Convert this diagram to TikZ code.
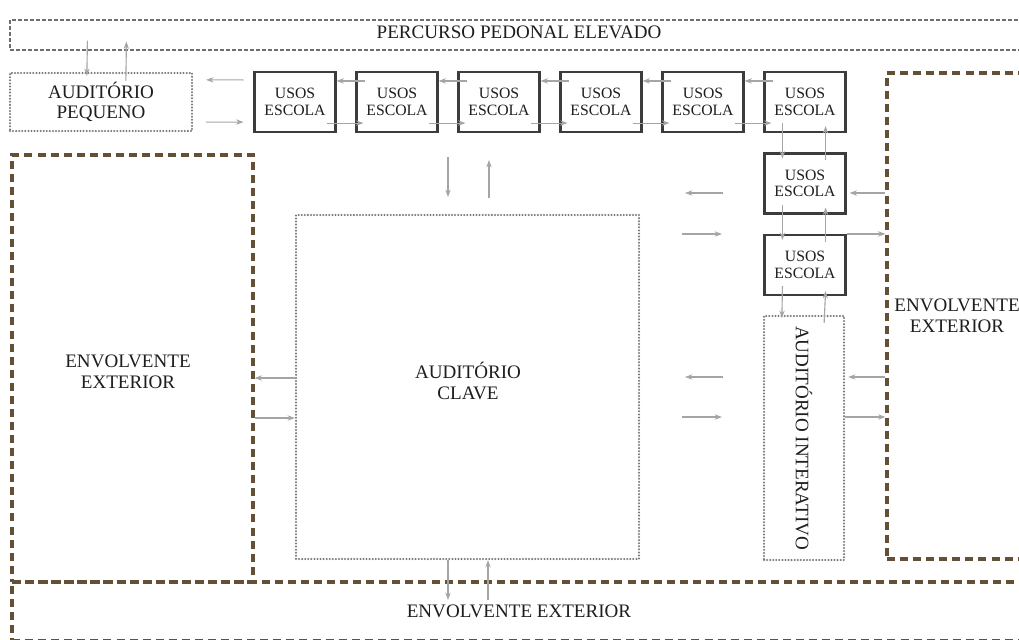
\documentclass[tikz,border=0pt]{standalone}
\usepackage{fontspec}
\setmainfont{Liberation Serif}
\usetikzlibrary{arrows.meta,calc}
\definecolor{brownd}{RGB}{100,80,55}
\definecolor{arrowc}{RGB}{165,165,165}
\definecolor{boxc}{RGB}{60,60,60}
\definecolor{dotc}{RGB}{120,120,120}
\definecolor{percc}{RGB}{110,110,110}
\definecolor{txt}{RGB}{30,30,30}
\begin{document}
\begin{tikzpicture}[x=0.75pt,y=-0.75pt,
  every node/.style={inner sep=0pt,align=center,text=txt},
  bigtxt/.style={font=\fontsize{14.3}{15.5}\selectfont},
  usos/.style={draw=boxc,line width=1.6pt,minimum width=60.75pt,minimum height=45pt,
    font=\fontsize{11.8}{12.3}\selectfont},
  dotbox/.style={draw=dotc,line width=1.7pt,line cap=round,dash pattern=on 0pt off 2.3pt,bigtxt},
  envbox/.style={draw=brownd,line width=2.4pt,dash pattern=on 6pt off 3.8pt,bigtxt},
  percbox/.style={draw=percc,line width=0.9pt,dash pattern=on 3pt off 1.5pt,bigtxt},
  arr/.style={draw=arrowc,line width=0.85pt,-{Stealth[length=5.5pt,width=4pt]}}
]
\useasboundingbox (0,0) rectangle (1019,639);
\fill[white] (0,0) rectangle (1019,639);

% exterior envelopes
\node[envbox,minimum width=760.5pt,minimum height=44.25pt] (envB) at (519,611.5) {ENVOLVENTE EXTERIOR};
\node[envbox,minimum width=180.75pt,minimum height=320.25pt] (envL) at (132.5,368.5) {};
\node[bigtxt] (envLt) at (128,372) {ENVOLVENTE\\EXTERIOR};
\node[envbox,minimum width=105pt,minimum height=364.5pt] (envR) at (957,316) {ENVOLVENTE\\EXTERIOR};

% pedestrian path
\node[percbox,minimum width=765pt,minimum height=22.5pt] (perc) at (520,35) {};
\node[bigtxt] (perct) at (519,32) {PERCURSO PEDONAL ELEVADO};

% auditoriums
\node[dotbox,minimum width=136.5pt,minimum height=43.5pt] (audp) at (101,102) {AUDITÓRIO\\PEQUENO};
\node[dotbox,minimum width=257.25pt,minimum height=258pt] (audc) at (467.5,387) {};
\node[bigtxt] (audct) at (468,381) {AUDITÓRIO\\CLAVE};
\node[dotbox,minimum width=60pt,minimum height=183pt] (audi) at (804,438) {};
\node[bigtxt,rotate=-90] (audit) at (audi.center) {AUDITÓRIO INTERATIVO};

% school uses
\node[usos] (u1) at (295,102) {USOS\\ESCOLA};
\node[usos] (u2) at (397,102) {USOS\\ESCOLA};
\node[usos] (u3) at (499,102) {USOS\\ESCOLA};
\node[usos] (u4) at (601,102) {USOS\\ESCOLA};
\node[usos] (u5) at (703,102) {USOS\\ESCOLA};
\node[usos] (u6) at (805,102) {USOS\\ESCOLA};
\node[usos] (u7) at (805,183.5) {USOS\\ESCOLA};
\node[usos] (u8) at (805,265) {USOS\\ESCOLA};

% top row arrows
\foreach \a/\b in {u1/u2,u2/u3,u3/u4,u4/u5,u5/u6}{
  \draw[arr] ($(\b.north west)+(10,10)$) -- ($(\a.north east)+(0,10)$);
  \draw[arr] ($(\a.south east)+(-10,-10)$) -- ($(\b.south west)+(8,-10)$);
}
% auditorio pequeno <-> first school block
\draw[arr] ($(u1.north west)+(-10,9)$) -- ($(audp.north east)+(13,8)$);
\draw[arr] ($(audp.south east)+(13,-10)$) -- ($(u1.south west)+(-10,-11)$);
% percurso <-> auditorio pequeno
\draw[arr] ($(perc.south west)+(78,-10)$) -- ($(audp.north west)+(78,4)$);
\draw[arr] ($(audp.north west)+(117,9)$) -- ($(perc.south west)+(117,-9)$);

% vertical column arrows
\foreach \a/\b in {u6/u7,u7/u8}{
  \draw[arr] ($(\a.south west)+(19,-10)$) -- ($(\b.north west)+(19,6)$);
  \draw[arr] ($(\b.north east)+(-21,8)$) -- ($(\a.south east)+(-21,-7)$);
}
\draw[arr] ($(u8.south west)+(19,-10)$) -- ($(audi.north west)+(19,3)$);
\draw[arr] ($(audi.north east)+(-21,8)$) -- ($(u8.south east)+(-21,-5)$);

% column <-> right envelope
\draw[arr] (envR.west |- 0,193) -- ($(u7.east |- 0,193)+(3,0)$);
\draw[arr] (u8.north east) -- (u8.north east -| envR.west);
\draw[arr] (envR.west |- 0,377) -- ($(audi.east |- 0,377)+(3,0)$);
\draw[arr] (audi.east |- 0,417) -- (envR.west |- 0,417);

% left envelope <-> auditorio clave
\draw[arr] (audc.west |- 0,378) -- (envL.east |- 0,378);
\draw[arr] (envL.east |- 0,418) -- (audc.west |- 0,418);

% auditorio clave <-> bottom envelope
\draw[arr] (audc.south -| 448,0) -- (448,600);
\draw[arr] (488,600) -- (audc.south -| 488,0);

% free arrows
\coordinate (fa1) at (723,193); \coordinate (fa2) at (685,193);
\coordinate (fb1) at (682,234); \coordinate (fb2) at (722,234);
\coordinate (fc1) at (723,377); \coordinate (fc2) at (685,377);
\coordinate (fd1) at (682,417); \coordinate (fd2) at (722,417);
\coordinate (fe1) at (448,157); \coordinate (fe2) at (448,197);
\coordinate (ff1) at (489,198); \coordinate (ff2) at (489,160);
\draw[arr] (fa1) -- (fa2);
\draw[arr] (fb1) -- (fb2);
\draw[arr] (fc1) -- (fc2);
\draw[arr] (fd1) -- (fd2);
\draw[arr] (fe1) -- (fe2);
\draw[arr] (ff1) -- (ff2);
\end{tikzpicture}
\end{document}
